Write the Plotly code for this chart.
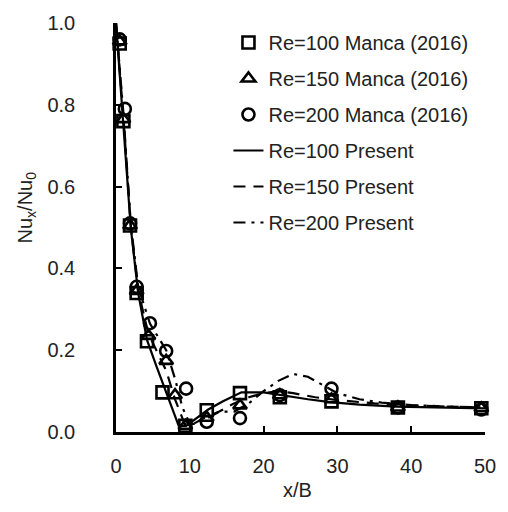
import plotly.graph_objects as go

# Manca (2016) reference data
sq_x = [0.5, 1.0, 1.9, 2.8, 4.2, 6.3, 9.4, 12.3, 16.8, 22.2, 29.2, 38.2, 49.5]
sq_y = [0.95, 0.76, 0.505, 0.34, 0.222, 0.097, 0.015, 0.053, 0.095, 0.085, 0.075, 0.06, 0.058]

tri_x = [0.5, 1.0, 1.9, 2.8, 4.4, 6.8, 8.0, 9.4, 12.3, 16.8, 22.2, 29.2, 38.2, 49.5]
tri_y = [0.955, 0.765, 0.505, 0.345, 0.235, 0.174, 0.09, 0.015, 0.035, 0.065, 0.09, 0.08, 0.06, 0.058]

cir_x = [0.5, 1.2, 1.9, 2.8, 4.6, 6.8, 9.5, 12.3, 16.8, 22.2, 29.2, 38.2, 49.5]
cir_y = [0.96, 0.79, 0.51, 0.355, 0.266, 0.198, 0.106, 0.025, 0.034, 0.09, 0.106, 0.06, 0.055]

# Present results
p100_x = [0, 1, 2, 3, 4.2, 5.5, 7, 8.5, 9.5, 11, 12.5, 14.5, 17, 20, 23, 26, 29, 33, 38, 44, 50]
p100_y = [1.0, 0.76, 0.5, 0.34, 0.225, 0.16, 0.09, 0.015, 0.015, 0.035, 0.055, 0.075, 0.097, 0.097, 0.088, 0.08, 0.073, 0.067, 0.062, 0.06, 0.058]

p150_x = [0, 1, 2, 3, 4.4, 5.5, 6.8, 8, 9.3, 10.5, 12, 14, 16, 18, 20, 22, 24, 27, 30, 35, 40, 45, 50]
p150_y = [1.0, 0.77, 0.505, 0.345, 0.24, 0.2, 0.15, 0.08, 0.02, 0.02, 0.035, 0.05, 0.07, 0.085, 0.095, 0.1, 0.095, 0.085, 0.078, 0.07, 0.065, 0.062, 0.06]

p200_x = [0, 1, 2, 3, 4.6, 5.8, 6.8, 8, 9, 10, 11, 12.5, 14, 16, 18, 20, 22, 24, 26, 28, 30, 33, 36, 40, 45, 50]
p200_y = [1.0, 0.78, 0.51, 0.355, 0.265, 0.23, 0.2, 0.13, 0.06, 0.02, 0.02, 0.035, 0.05, 0.05, 0.07, 0.1, 0.125, 0.142, 0.135, 0.115, 0.095, 0.08, 0.072, 0.066, 0.062, 0.06]

x_ticks = [0, 10, 20, 30, 40, 50]
y_ticks = [0.0, 0.2, 0.4, 0.6, 0.8, 1.0]

FONT = "Liberation Sans, Arial, sans-serif"
FS = 20
fig = go.Figure()

mk_line = dict(color="black", width=2.6)
fig.add_trace(go.Scatter(x=sq_x, y=sq_y, mode="markers", name="Re=100 Manca (2016)",
                         legendgroup="a",
                         marker=dict(symbol="square-open", size=12, color="black", line=mk_line),
                         cliponaxis=False))
fig.add_trace(go.Scatter(x=tri_x, y=tri_y, mode="markers", name="Re=150 Manca (2016)",
                         legendgroup="b",
                         marker=dict(symbol="triangle-up-open", size=12, color="black", line=mk_line),
                         cliponaxis=False))
fig.add_trace(go.Scatter(x=cir_x, y=cir_y, mode="markers", name="Re=200 Manca (2016)",
                         legendgroup="c",
                         marker=dict(symbol="circle-open", size=12, color="black", line=mk_line),
                         cliponaxis=False))
fig.add_trace(go.Scatter(x=p100_x, y=p100_y, mode="lines", name="Re=100 Present",
                         legendgroup="d",
                         line=dict(color="black", width=2.2), cliponaxis=False))
fig.add_trace(go.Scatter(x=p150_x, y=p150_y, mode="lines", name="Re=150 Present",
                         legendgroup="e",
                         line=dict(color="black", width=2.2, dash="12px,8px"), cliponaxis=False))
fig.add_trace(go.Scatter(x=p200_x, y=p200_y, mode="lines", name="Re=200 Present",
                         legendgroup="f",
                         line=dict(color="black", width=2.2, dash="12px,6px,3px,6px"), cliponaxis=False))

W, H = 508, 512
L, R, T, B = 115.7, 17.3, 18, 80
pw, ph = W - L - R, H - T - B

fig.update_layout(
    width=W, height=H,
    margin=dict(l=L, r=R, t=T, b=B, pad=0),
    paper_bgcolor="white", plot_bgcolor="white",
    font=dict(family=FONT, size=FS, color="#222"),
    showlegend=True,
    legend=dict(x=(230 - L) / pw, y=1 - (18 - T) / ph, xanchor="left", yanchor="top",
                bgcolor="rgba(0,0,0,0)", borderwidth=0,
                font=dict(family=FONT, size=FS, color="#222"),
                tracegroupgap=7, traceorder="grouped"),
    xaxis=dict(range=[0, 50], tickvals=x_ticks, ticktext=[str(v) for v in x_ticks],
               showgrid=False, zeroline=False, showline=True, linecolor="black", linewidth=2.5,
               ticks="inside", ticklen=6, tickwidth=2, tickcolor="black",
               ticklabelstandoff=14, tickfont=dict(size=FS, family=FONT, color="#222")),
    yaxis=dict(range=[0, 1], tickvals=y_ticks, ticktext=[f"{v:.1f}" for v in y_ticks],
               showgrid=False, zeroline=False, showline=True, linecolor="black", linewidth=2.5,
               ticks="inside", ticklen=6, tickwidth=2, tickcolor="black",
               ticklabelstandoff=34, tickfont=dict(size=FS, family=FONT, color="#222")),
    annotations=[
        dict(text="x/B", xref="paper", yref="paper", x=(300 - L) / pw, y=-(491 - T - ph) / ph,
             xanchor="center", yanchor="middle", showarrow=False,
             font=dict(size=FS, family=FONT, color="#222")),
        dict(text="Nu<sub>x</sub>/Nu<sub>0</sub>", xref="paper", yref="paper",
             x=-(L - 25) / pw, y=(T + ph - 205) / ph, textangle=-90,
             xanchor="center", yanchor="middle", showarrow=False,
             font=dict(size=FS, family=FONT, color="#222")),
    ],
)

fig.write_html("out.html")
